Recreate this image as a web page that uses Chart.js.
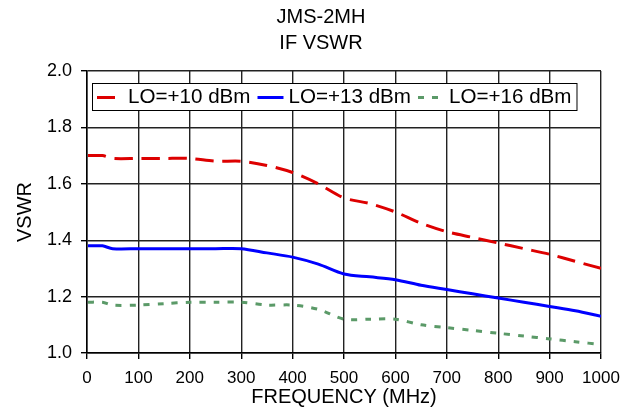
<!DOCTYPE html>
<html>
<head>
<meta charset="utf-8">
<script src="https://cdn.jsdelivr.net/npm/chart.js@4"></script>
<style>
  html, body { margin: 0; padding: 0; background: #fff; }
  #wrap { width: 634px; height: 410px; }
</style>
</head>
<body>
<div id="wrap"><canvas id="c" width="634" height="410"></canvas></div>
<script>
// ---- data ----
const titleLines = ["JMS-2MH", "IF VSWR"];
const xTitle = "FREQUENCY (MHz)";
const yTitle = "VSWR";
const seriesNames = ["LO=+10 dBm", "LO=+13 dBm", "LO=+16 dBm"];
const freq = [2, 30, 50, 100, 150, 200, 250, 300, 350, 400, 450, 500, 550, 600, 650, 700, 750, 800, 850, 900, 950, 1000];
const lo10 = [1.70, 1.70, 1.69, 1.69, 1.69, 1.69, 1.68, 1.68, 1.665, 1.64, 1.60, 1.55, 1.53, 1.50, 1.46, 1.43, 1.41, 1.39, 1.37, 1.35, 1.325, 1.30];
const lo13 = [1.38, 1.38, 1.37, 1.37, 1.37, 1.37, 1.37, 1.37, 1.355, 1.34, 1.315, 1.28, 1.27, 1.26, 1.24, 1.225, 1.21, 1.195, 1.18, 1.165, 1.15, 1.13];
const lo16 = [1.18, 1.18, 1.17, 1.17, 1.175, 1.18, 1.18, 1.18, 1.17, 1.17, 1.155, 1.12, 1.12, 1.12, 1.10, 1.09, 1.08, 1.07, 1.06, 1.05, 1.04, 1.03];
const xTicks = [0, 100, 200, 300, 400, 500, 600, 700, 800, 900, 1000];
const yTicks = [1.0, 1.2, 1.4, 1.6, 1.8, 2.0];

const pts = (ys) => freq.map((f, i) => ({ x: f, y: ys[i] }));
const FONT = "'Liberation Sans', Arial, sans-serif";

const titleAndLegend = {
  id: 'titleAndLegend',
  afterDraw(chart) {
    const { ctx } = chart;
    ctx.save();
    ctx.font = `20px ${FONT}`;
    ctx.fillStyle = '#000';
    ctx.textAlign = 'center';
    ctx.textBaseline = 'middle';
    ctx.fillText(titleLines[0], 321, 17);
    ctx.fillText(titleLines[1], 321, 43);
    ctx.restore();
  },
  afterDatasetsDraw(chart) {
    const { ctx, chartArea } = chart;
    ctx.save();
    ctx.font = `20.6px ${FONT}`;
    const x0 = chartArea.left + 5, y0 = chartArea.top + 12, h = 27;
    const sampleGap = 31, itemGap = 7, padL = 5, padR = 5;
    const n = chart.data.datasets.length;
    let total = padL;
    chart.data.datasets.forEach((ds, i) => {
      total += sampleGap + ctx.measureText(ds.label).width + (i < n - 1 ? itemGap : 0);
    });
    total += padR;
    ctx.fillStyle = '#fff';
    ctx.fillRect(x0, y0, total, h);
    ctx.strokeStyle = '#000';
    ctx.lineWidth = 1;
    ctx.strokeRect(x0 + 0.5, y0 + 0.5, total, h);
    let x = x0 + padL;
    const cy = y0 + h / 2 + 1;
    chart.data.datasets.forEach((ds) => {
      ctx.save();
      ctx.strokeStyle = ds.borderColor;
      ctx.lineWidth = 3;
      ctx.setLineDash(ds.borderDash || []);
      ctx.beginPath();
      ctx.moveTo(x, cy);
      ctx.lineTo(x + 26, cy);
      ctx.stroke();
      ctx.restore();
      ctx.fillStyle = '#000';
      ctx.textBaseline = 'middle';
      ctx.fillText(ds.label, x + sampleGap, cy);
      x += sampleGap + ctx.measureText(ds.label).width + itemGap;
    });
    ctx.restore();
  }
};

new Chart(document.getElementById('c'), {
  type: 'line',
  data: {
    datasets: [
      { label: seriesNames[0], data: pts(lo10), borderColor: '#dd0000', borderWidth: 3, borderDash: [18, 9], pointRadius: 0, tension: 0.3, fill: false },
      { label: seriesNames[1], data: pts(lo13), borderColor: '#0000ff', borderWidth: 3, pointRadius: 0, tension: 0.3, fill: false },
      { label: seriesNames[2], data: pts(lo16), borderColor: '#5b9a68', borderWidth: 3, borderDash: [6, 8], pointRadius: 0, tension: 0.3, fill: false }
    ]
  },
  options: {
    responsive: false,
    animation: false,
    devicePixelRatio: 1,
    layout: { padding: { left: 0, right: 33, top: 71, bottom: 0 } },
    plugins: {
      legend: { display: false },
      tooltip: { enabled: false },
      title: { display: false }
    },
    scales: {
      x: {
        type: 'linear',
        min: 0, max: 1000,
        afterBuildTicks: (s) => { s.ticks = xTicks.map(v => ({ value: v })); },
        afterFit: (s) => { s.height = 57; },
        ticks: { color: '#000', font: { family: FONT, size: 17 }, padding: 9, maxRotation: 0, callback: (v) => String(v) },
        grid: { color: '#222', lineWidth: 1.4, tickLength: 6, tickColor: '#000' },
        border: { color: '#000', width: 1.5 },
        title: { display: true, text: xTitle, color: '#000', font: { family: FONT, size: 20 }, padding: { top: 0, bottom: 1 } }
      },
      y: {
        min: 1.0, max: 2.0,
        afterBuildTicks: (s) => { s.ticks = yTicks.map(v => ({ value: v })); },
        afterFit: (s) => { s.width = 87; },
        ticks: { color: '#000', font: { family: FONT, size: 18 }, padding: 9, callback: (v) => Number(v).toFixed(1) },
        grid: { color: '#222', lineWidth: 1.4, tickLength: 6, tickColor: '#000' },
        border: { color: '#000', width: 1.5 },
        title: { display: true, text: yTitle, color: '#000', font: { family: FONT, size: 20 }, padding: { top: 13, bottom: 0 } }
      }
    }
  },
  plugins: [titleAndLegend]
});
</script>
</body>
</html>
